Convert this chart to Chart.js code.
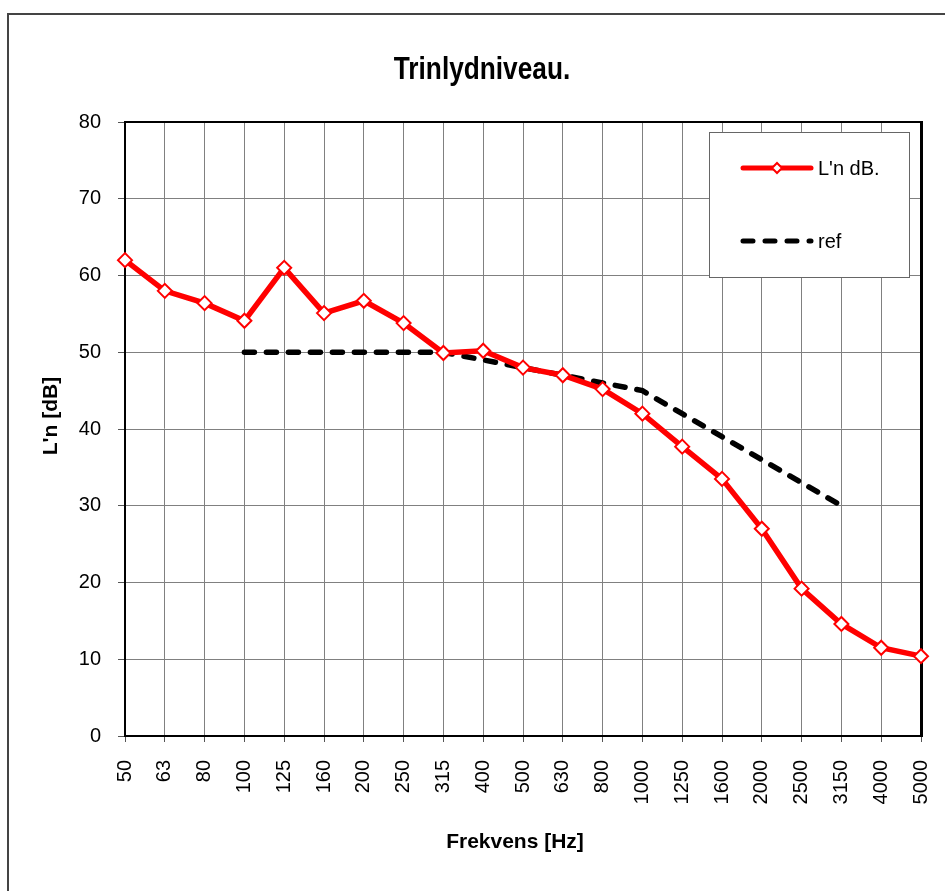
<!DOCTYPE html>
<html>
<head>
<meta charset="utf-8">
<script src="https://cdn.jsdelivr.net/npm/chart.js@4.4.1/dist/chart.umd.min.js"></script>
<style>
    html, body { margin: 0; padding: 0; background: #fff; overflow: hidden; }
    #ramme { position: absolute; left: 7px; top: 13px; width: 1000px; height: 1000px; border-left: 2px solid #444; border-top: 2px solid #444; }
    #graf { position: absolute; left: 0; top: 0; }
</style>
</head>
<body>
<div id="ramme"></div>
<canvas id="graf" width="945" height="891"></canvas>
<script>
const frekvenser = ['50', '63', '80', '100', '125', '160', '200', '250', '315', '400', '500', '630', '800', '1000', '1250', '1600', '2000', '2500', '3150', '4000', '5000'];
const lnVaerdier = [62.0, 58.0, 56.4, 54.1, 61.0, 55.1, 56.7, 53.8, 49.9, 50.2, 48.0, 47.0, 45.2, 42.0, 37.7, 33.5, 27.0, 19.2, 14.6, 11.5, 10.4];
const refVaerdier = [null, null, null, 50, 50, 50, 50, 50, 50, 49, 48, 47, 46, 45, 42, 39, 36, 33, 30, null, null];
const yMin = 0, yMax = 80, yStep = 10;

const titel = 'Trinlydniveau.';
const xTitel = 'Frekvens [Hz]';
const yTitel = "L'n [dB]";
const legendTekster = ["L'n dB.", 'ref'];

const font = "'Liberation Sans', Arial, sans-serif";
Chart.defaults.font.family = font;
Chart.defaults.color = '#000';

// titler, ramme og legend tegnes oven paa grafen
const tegnEkstra = {
    id: 'tegnEkstra',
    beforeDatasetsDraw(chart) {
        const { ctx, chartArea: a } = chart;
        ctx.save();
        ctx.strokeStyle = '#000';
        ctx.lineWidth = 2;
        ctx.beginPath();
        ctx.moveTo(a.left, a.top);
        ctx.lineTo(a.right, a.top);
        ctx.stroke();
        ctx.lineWidth = 3;
        ctx.beginPath();
        ctx.moveTo(a.right + 0.5, a.top - 1);
        ctx.lineTo(a.right + 0.5, a.bottom + 1);
        ctx.stroke();
        ctx.restore();
    },
    afterDraw(chart) {
        const { ctx } = chart;
        const ds = chart.data.datasets;
        ctx.save();

        // hovedtitel (smal skrift)
        ctx.fillStyle = '#000';
        ctx.textAlign = 'center';
        ctx.textBaseline = 'alphabetic';
        ctx.font = 'bold 32px ' + font;
        ctx.translate(482, 79);
        ctx.scale(0.82, 1);
        ctx.fillText(titel, 0, 0);
        ctx.setTransform(1, 0, 0, 1, 0, 0);

        ctx.font = 'bold 21px ' + font;
        ctx.fillText(xTitel, 515, 848);

        ctx.translate(51, 416);
        ctx.rotate(-Math.PI / 2);
        ctx.textBaseline = 'middle';
        ctx.fillText(yTitel, 0, 0);
        ctx.setTransform(1, 0, 0, 1, 0, 0);

        // legend
        ctx.fillStyle = '#fff';
        ctx.fillRect(709, 132, 200, 145);
        ctx.strokeStyle = '#666';
        ctx.lineWidth = 1;
        ctx.strokeRect(709.5, 132.5, 200, 145);

        const raekker = [168, 241];
        ds.forEach((d, i) => {
            const y = raekker[i];
            ctx.beginPath();
            ctx.strokeStyle = d.borderColor;
            ctx.lineWidth = 5;
            ctx.lineCap = 'round';
            ctx.setLineDash(d.borderDash || []);
            ctx.moveTo(743, y);
            ctx.lineTo(811, y);
            ctx.stroke();
            ctx.setLineDash([]);
            if (d.pointRadius > 0) {
                ctx.fillStyle = d.pointBackgroundColor;
                ctx.strokeStyle = d.pointBorderColor;
                ctx.lineWidth = 2;
                ctx.beginPath();
                ctx.moveTo(777 - 5, y);
                ctx.lineTo(777, y - 5);
                ctx.lineTo(777 + 5, y);
                ctx.lineTo(777, y + 5);
                ctx.closePath();
                ctx.fill();
                ctx.stroke();
            }
            ctx.fillStyle = '#000';
            ctx.font = '20px ' + font;
            ctx.textAlign = 'left';
            ctx.textBaseline = 'middle';
            ctx.fillText(legendTekster[i], 818, y + 1);
        });
        ctx.restore();
    }
};

new Chart(document.getElementById('graf'), {
    type: 'line',
    data: {
        labels: frekvenser,
        datasets: [
            {
                label: legendTekster[0],
                data: lnVaerdier,
                borderColor: '#ff0000',
                borderWidth: 5.5,
                pointStyle: 'rectRot',
                pointRadius: 7,
                pointHoverRadius: 7,
                pointBorderWidth: 2,
                pointBackgroundColor: '#fff',
                pointBorderColor: '#ff0000',
                tension: 0,
                clip: false
            },
            {
                label: legendTekster[1],
                data: refVaerdier,
                borderColor: '#000',
                borderWidth: 5.5,
                borderDash: [10, 12],
                borderCapStyle: 'round',
                pointRadius: 0,
                tension: 0,
                clip: false
            }
        ]
    },
    options: {
        responsive: false,
        animation: false,
        events: [],
        layout: { padding: { left: 0, top: 122, right: 24, bottom: 25 } },
        plugins: { legend: { display: false }, title: { display: false }, tooltip: { enabled: false } },
        scales: {
            x: {
                offset: false,
                grid: { color: '#808080', lineWidth: 1, tickLength: 6, tickColor: '#555' },
                border: { color: '#000', width: 2 },
                ticks: { autoSkip: false, minRotation: 90, maxRotation: 90, padding: 18, font: { size: 20 }, color: '#000' },
                afterFit(s) { s.height = 130; s.paddingLeft = 0; s.paddingRight = 0; }
            },
            y: {
                min: yMin,
                max: yMax,
                grid: { color: '#808080', lineWidth: 1, tickLength: 7, tickColor: '#555' },
                border: { color: '#000', width: 2 },
                ticks: { stepSize: yStep, padding: 17, font: { size: 20 }, color: '#000' },
                afterFit(s) { s.width = 125; }
            }
        }
    },
    plugins: [tegnEkstra]
});
</script>
</body>
</html>
